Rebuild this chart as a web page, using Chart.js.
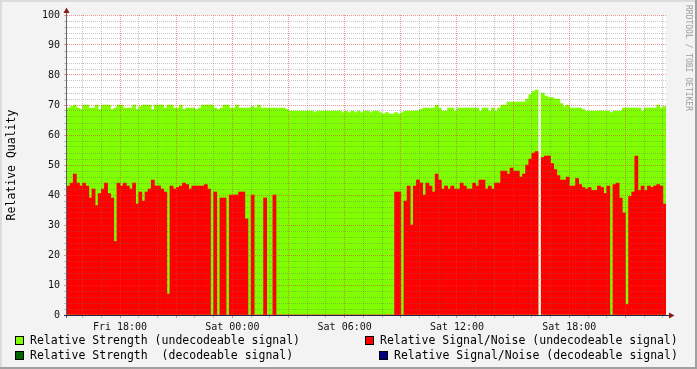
<!DOCTYPE html>
<html>
<head>
<meta charset="utf-8">
<script src="https://cdn.jsdelivr.net/npm/chart.js@4/dist/chart.umd.min.js"></script>
<style>
  html, body { margin: 0; padding: 0; background: #f3f3f3; }
  canvas { display: block; }
</style>
</head>
<body>
<canvas id="quality" width="697" height="369"></canvas>
<script>
// 10 minute buckets, first bucket starts Fri 15:10 (hours counted from Fri 00:00)
const startHour = 15 + 10 / 60;
const bucketHours = 1 / 6;

const strengthUndecodeable = [
  69, 69.5, 70, 69, 68.5, 70, 70, 69, 69, 70,
  68.5, 70, 70, 70, 68.5, 69, 70, 70, 69, 69,
  69, 70, 68.5, 69.5, 70, 70, 70, 68.5, 70, 70,
  70, 69, 70, 70, 69, 69, 70, 68.5, 69, 69,
  69, 68.5, 69, 70, 70, 70, 70, 69, 68.5, 69,
  70, 70, 69, 69, 70, 69, 69, 69, 69, 69.5,
  69, 70, 69, 69, 69, 69, 69, 69, 69, 69,
  68.5, 68, 68, 68, 68, 68, 68, 68, 68, 67.5,
  68, 68, 68, 68, 68, 68, 68, 68, 67.5, 68,
  67.5, 68, 67.5, 68, 67.5, 68, 68, 67.5, 68, 68,
  67.5, 67, 67.5, 67, 67, 67.5, 67, 67.5, 68, 68,
  68, 68, 68, 68.5, 69, 69, 69, 69, 70, 69,
  68, 68, 69, 69, 68, 69, 69, 69, 69, 69,
  69, 69, 68, 69, 69, 68, 69, 68, 69, 70,
  70, 71, 71, 71, 71, 71, 71, 72, 73.5, 74.5,
  75, null, 74, 73, 72.5, 72.5, 72, 72, 70.5, 69.5,
  70, 69, 69, 69, 69, 68.5, 68, 68, 68, 68,
  68, 68, 68, 68, 67.5, 68, 68, 68, 69, 69,
  69, 69, 69, 69, 68, 69, 69, 69, 69, 70,
  69, 69.5
];

const snrUndecodeable = [
  43, 44, 47, 44, 43, 44, 43, 39, 42, 36.5,
  40.5, 42, 44, 40.5, 39, 24.5, 44, 43, 44, 43,
  42, 44, 37, 41, 38, 41, 42, 45, 43, 43,
  42, 41, 7, 43, 42, 42.5, 43, 44, 43.5, 42,
  43, 43, 43, 43, 43.5, 42, 0, 41, 0, 39,
  39, 0, 40, 40, 40, 41, 41, 32, 0, 40,
  0, 0, 0, 39, 0, 0, 40, 0, 0, 0,
  0, 0, 0, 0, 0, 0, 0, 0, 0, 0,
  0, 0, 0, 0, 0, 0, 0, 0, 0, 0,
  0, 0, 0, 0, 0, 0, 0, 0, 0, 0,
  0, 0, 0, 0, 0, 41, 41, 0, 38, 43,
  30, 43, 45, 44, 40, 44, 43, 41, 47, 45,
  42, 43, 42, 43, 42, 42, 44, 43, 42, 42,
  44, 43, 45, 45, 42, 43, 42, 44, 44, 48,
  48, 47, 49, 48, 48, 46, 47, 50, 52, 54,
  54.5, null, 52.5, 53, 53, 50.5, 48.5, 46.5, 45, 45,
  46, 43, 43, 45.5, 43.5, 42.5, 42, 42.5, 41.5, 41.5,
  43, 42.5, 40.5, 43, 0, 43.5, 44, 39, 34, 3.5,
  39.5, 41, 53, 41.5, 43, 41.5, 43, 42.5, 43, 43.5,
  43, 37
];

// no decodeable signal in this period
const strengthDecodeable = [];
const snrDecodeable = [];

const tickHours = [18, 24, 30, 36, 42];
const tickLabels = ['Fri 18:00', 'Sat 00:00', 'Sat 06:00', 'Sat 12:00', 'Sat 18:00'];

const MONO = "'DejaVu Sans Mono', monospace";
const MINOR = 'rgba(110,110,110,0.4)';
const MAJOR = 'rgba(220,60,60,0.55)';

function toPoints(values) {
  return values.map((v, i) => ({ x: startHour + (i + 0.5) * bucketHours, y: v }));
}

const legendSpots = [
  { x: 15, y: 336 }, { x: 365, y: 336 },
  { x: 15, y: 351 }, { x: 379, y: 351 }
];

const rrdLook = {
  id: 'rrdLook',
  beforeDraw(chart) {
    const { ctx, chartArea: a } = chart;
    ctx.save();
    ctx.fillStyle = '#f3f3f3';
    ctx.fillRect(0, 0, chart.width, chart.height);
    ctx.fillStyle = '#ffffff';
    ctx.fillRect(a.left, a.top, a.right - a.left, a.bottom - a.top);
    ctx.restore();
  },
  afterDraw(chart) {
    const { ctx, chartArea: a } = chart;
    ctx.save();

    // axes
    ctx.lineWidth = 1;
    ctx.strokeStyle = '#606060';
    ctx.beginPath();
    ctx.moveTo(a.left - 0.5, 12);
    ctx.lineTo(a.left - 0.5, a.bottom + 3);
    ctx.stroke();
    ctx.strokeStyle = '#24244a';
    ctx.beginPath();
    ctx.moveTo(a.left - 3, a.bottom + 0.5);
    ctx.lineTo(669, a.bottom + 0.5);
    ctx.stroke();

    // arrows
    ctx.fillStyle = '#8a1a1a';
    ctx.beginPath();
    ctx.moveTo(a.left - 3.5, 13);
    ctx.lineTo(a.left + 2.5, 13);
    ctx.lineTo(a.left - 0.5, 7.5);
    ctx.closePath();
    ctx.fill();
    ctx.beginPath();
    ctx.moveTo(669, a.bottom - 2.5);
    ctx.lineTo(669, a.bottom + 3.5);
    ctx.lineTo(674.5, a.bottom + 0.5);
    ctx.closePath();
    ctx.fill();

    // legend
    ctx.font = '11.5px ' + MONO;
    ctx.textBaseline = 'middle';
    chart.data.datasets.forEach((ds, i) => {
      const p = legendSpots[i];
      ctx.fillStyle = ds.backgroundColor;
      ctx.fillRect(p.x, p.y, 9, 9);
      ctx.strokeStyle = '#000';
      ctx.strokeRect(p.x + 0.5, p.y + 0.5, 8, 8);
      ctx.fillStyle = '#000';
      ctx.fillText(ds.label, p.x + 15, p.y + 5);
    });

    // watermark
    ctx.save();
    ctx.translate(688, 5);
    ctx.rotate(Math.PI / 2);
    ctx.font = '8px ' + MONO;
    ctx.fillStyle = '#9c9c9c';
    ctx.textBaseline = 'middle';
    ctx.fillText('RRDTOOL / TOBI OETIKER', 0, 0);
    ctx.restore();

    // frame
    ctx.fillStyle = '#dcdcdc';
    ctx.fillRect(0, 0, chart.width, 2);
    ctx.fillRect(0, 0, 2, chart.height);
    ctx.fillStyle = '#a0a0a0';
    ctx.fillRect(0, chart.height - 2, chart.width, 2);
    ctx.fillRect(chart.width - 2, 0, 2, chart.height);
    ctx.restore();
  }
};

new Chart(document.getElementById('quality'), {
  type: 'bar',
  data: {
    datasets: [
      { label: 'Relative Strength (undecodeable signal)', data: toPoints(strengthUndecodeable),
        backgroundColor: '#80ff00', order: 2, grouped: false },
      { label: 'Relative Signal/Noise (undecodeable signal)', data: toPoints(snrUndecodeable),
        backgroundColor: '#ff0000', order: 1, grouped: false },
      { label: 'Relative Strength  (decodeable signal)', data: toPoints(strengthDecodeable),
        backgroundColor: '#006600', order: 0, grouped: false },
      { label: 'Relative Signal/Noise (decodeable signal)', data: toPoints(snrDecodeable),
        backgroundColor: '#000080', order: 0, grouped: false }
    ]
  },
  options: {
    responsive: false,
    devicePixelRatio: 1,
    animation: false,
    events: [],
    barPercentage: 1,
    categoryPercentage: 1,
    layout: { padding: { top: 15, right: 31, bottom: 0, left: 0 } },
    plugins: { legend: { display: false }, tooltip: { enabled: false } },
    scales: {
      x: {
        type: 'linear',
        min: startHour,
        max: startHour + 32,
        offset: false,
        afterFit(s) { s.height = 54; },
        afterBuildTicks(s) {
          const hours = [];
          for (let h = Math.ceil(s.min); h <= s.max; h++) hours.push({ value: h });
          s.ticks = hours;
        },
        grid: {
          z: 1,
          offset: false,
          tickLength: 3,
          color: c => (c.tick && c.tick.value % 3 === 0) ? MAJOR : MINOR
        },
        border: { display: false, dash: [1, 1] },
        ticks: {
          autoSkip: false,
          maxRotation: 0,
          padding: 3,
          color: '#111',
          font: { family: MONO, size: 10 },
          callback: v => {
            const k = tickHours.indexOf(v);
            return k >= 0 ? tickLabels[k] : '';
          }
        }
      },
      y: {
        min: 0,
        max: 100,
        afterFit(s) { s.width = 67; },
        grid: {
          z: 1,
          tickLength: 3,
          color: c => (c.tick && c.tick.value % 10 === 0) ? MAJOR : MINOR
        },
        border: { display: false, dash: [1, 1] },
        ticks: {
          stepSize: 2,
          autoSkip: false,
          padding: 4,
          color: '#111',
          font: { family: MONO, size: 10 },
          callback: v => (v % 10 === 0 ? String(v) : '')
        },
        title: {
          display: true,
          text: 'Relative Quality',
          color: '#000',
          font: { family: MONO, size: 11.5 },
          padding: { top: 5, bottom: 0 }
        }
      }
    }
  },
  plugins: [rrdLook]
});
</script>
</body>
</html>
